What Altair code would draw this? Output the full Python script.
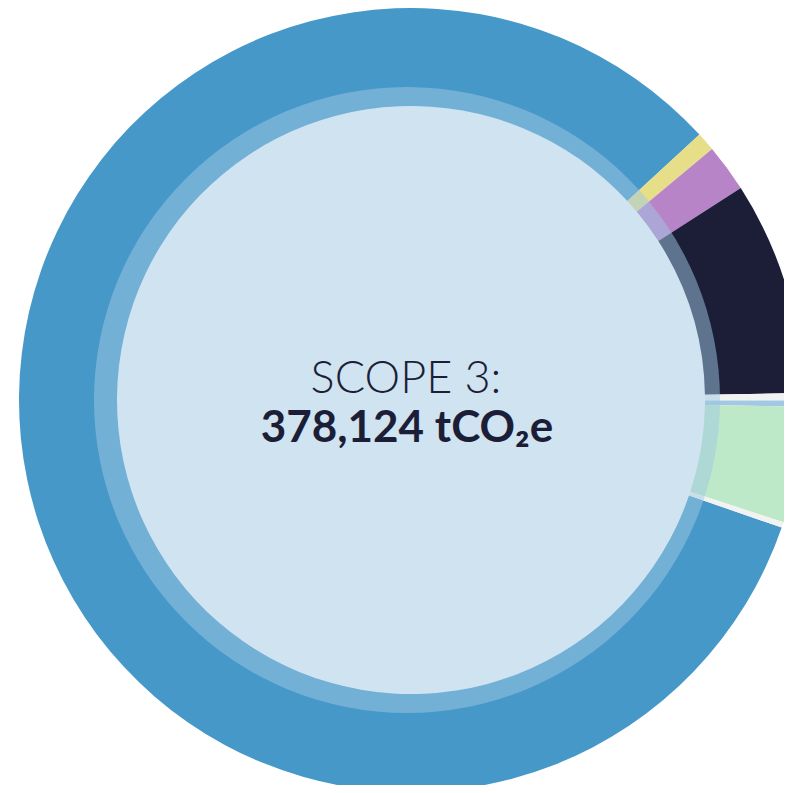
import altair as alt
import pandas as pd

# Scope 3 breakdown (tCO2e), clockwise order
categories = ["Purchased goods & services", "Capital goods", "Fuel & energy activities",
              "Upstream transportation", "Waste", "Business travel",
              "Employee commuting", "Downstream transportation"]
values = [313424, 2941, 7457, 33296, 1155, 945, 18066, 840]
colors = ["#4698c9", "#e6de88", "#b884c8", "#1c1e38", "#f2f2f2", "#a3c8e3", "#bde9c9", "#f2f2f2"]

title_line = "SCOPE 3:"
total_line = "378,124 tCO\u2082e"

df = pd.DataFrame({"category": categories, "value": values, "idx": list(range(len(values)))})

W, H = 776, 777
CX, CY = 403, 392
START = 1.902  # radians, where the first segment begins

ring = alt.Chart(df).mark_arc(radius=392, radius2=294).encode(
    theta=alt.Theta("value:Q", stack=True, scale=alt.Scale(range=[START, START + 6.283185307])),
    order=alt.Order("idx:Q"),
    color=alt.Color("category:N", scale=alt.Scale(domain=categories, range=colors), legend=None),
    x=alt.value(CX),
    y=alt.value(CY),
)

overlay = alt.Chart(pd.DataFrame({"a": [1]})).mark_arc(
    radius=313, theta=0, theta2=6.2832, color="#a0c8e3", opacity=0.5
).encode(x=alt.value(399), y=alt.value(392))

label1 = alt.Chart(pd.DataFrame({"t": [title_line]})).mark_text(
    font="Lato", fontWeight=300, fontSize=45, color="#1c1e38", align="center", baseline="alphabetic"
).encode(text="t:N", x=alt.value(398), y=alt.value(385))

label2 = alt.Chart(pd.DataFrame({"t": [total_line]})).mark_text(
    font="Lato", fontWeight="bold", fontSize=44, color="#1c1e38", align="center", baseline="alphabetic"
).encode(text="t:N", x=alt.value(399), y=alt.value(434))

chart = alt.layer(ring, overlay, label1, label2).properties(
    width=W, height=H, autosize=alt.AutoSizeParams(type="none"), padding=0
).configure_view(stroke=None)

chart.save("out.html", embed_options={"renderer": "svg", "actions": False})
